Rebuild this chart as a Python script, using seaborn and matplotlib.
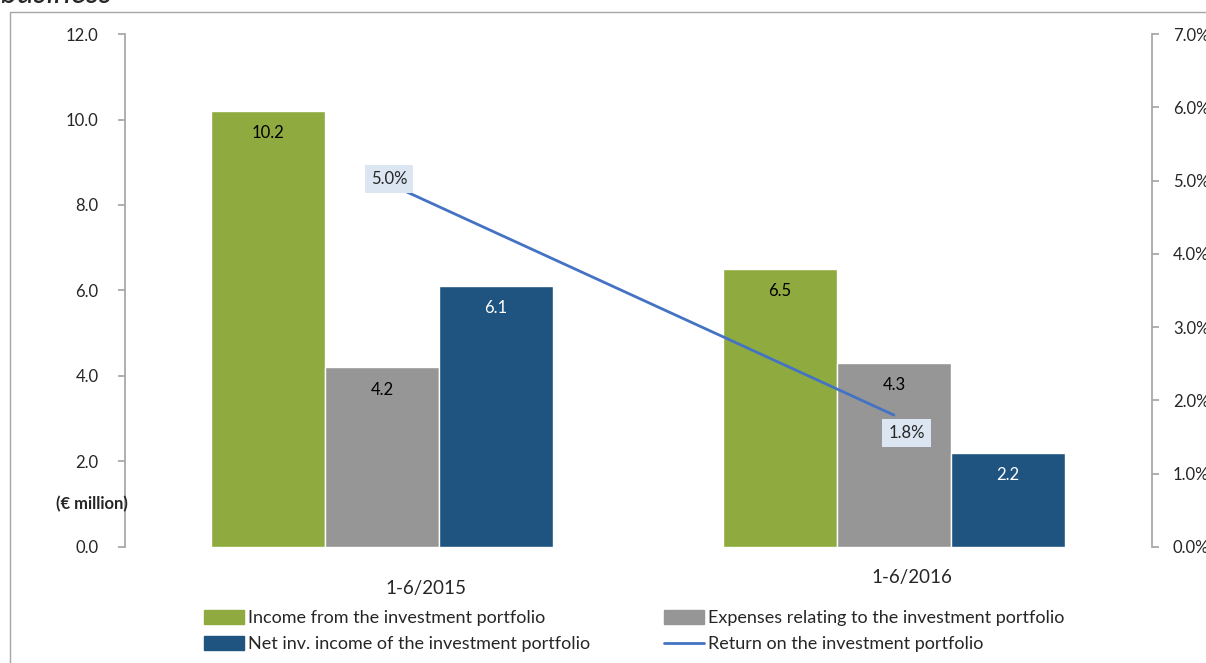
"""
Investment portfolio income, expenses and return - grouped bars with return line
"""
import pandas as pd
import matplotlib
matplotlib.use("Agg")
import matplotlib.pyplot as plt
from matplotlib.patches import Rectangle
from matplotlib.lines import Line2D
import seaborn as sns

# data
periods = ["1-6/2015", "1-6/2016"]
income = [10.2, 6.5]
expenses = [4.2, 4.3]
net_income = [6.1, 2.2]
returns = [5.0, 1.8]  # %

series_names = [
    "Income from the investment portfolio",
    "Expenses relating to the investment portfolio",
    "Net inv. income of the investment portfolio",
]
line_name = "Return on the investment portfolio"
y_ticks = [0, 2, 4, 6, 8, 10, 12]
pct_ticks = [0, 1, 2, 3, 4, 5, 6, 7]

colors = ["#8FAA3E", "#969696", "#1F5480"]
line_color = "#4472C4"
label_colors = ["black", "black", "white"]

sns.set_theme(style="white")
plt.rcParams["font.family"] = ["Lato", "DejaVu Sans"]

df = pd.DataFrame({
    "period": periods * 3,
    "series": [s for s in series_names for _ in periods],
    "value": income + expenses + net_income,
})

fig = plt.figure(figsize=(12.06, 6.63), dpi=100)
ax = fig.add_axes([0.1036, 0.175, 0.8516, 0.7737])

sns.barplot(data=df, x="period", y="value", hue="series", hue_order=series_names,
            palette=colors, width=0.668, gap=0, saturation=1, ax=ax, legend=False,
            errorbar=None)

# value labels inside bar tops
for container, tc in zip(ax.containers, label_colors):
    for patch in container:
        h = patch.get_height()
        ax.annotate(f"{h:.1f}", (patch.get_x() + patch.get_width() / 2, h),
                    xytext=(0, -16), textcoords="offset points", ha="center",
                    va="center", fontsize=12, color=tc)

ax.set_ylim(0, 12)
ax.set_xlim(-0.502, 1.504)
ax.set_yticks(y_ticks)
ax.set_yticklabels([f"{v:.1f}" for v in y_ticks], fontsize=12)
ax.set_xticks([])
ax.set_xlabel("")
ax.set_ylabel("")
for side in ["top", "right", "bottom"]:
    ax.spines[side].set_visible(False)
ax.spines["left"].set_color("#A6A6A6")
ax.tick_params(axis="y", left=True, length=5, color="#A6A6A6", pad=14)

# category labels (slightly offset like the original)
cat_offsets = [(0.086, -0.08), (0.035, -0.06)]
for i, (name, (dx, dy)) in enumerate(zip(periods, cat_offsets)):
    ax.text(i + dx, dy, name, transform=ax.get_xaxis_transform(), ha="center",
            va="center", fontsize=13.5)

ax.text(0.003, 1.0, "(€ million)", transform=ax.get_yaxis_transform(),
        ha="right", va="center", fontsize=12, fontweight="bold")

# return line on secondary axis
ax2 = ax.twinx()
sns.lineplot(x=list(range(len(periods))), y=returns, ax=ax2, color=line_color,
             linewidth=2)
ax2.set_ylim(0, 7)
ax2.set_xlim(-0.502, 1.504)
ax2.set_yticks(pct_ticks)
ax2.set_yticklabels([f"{v:.1f}%" for v in pct_ticks], fontsize=12)
for side in ["top", "left", "bottom"]:
    ax2.spines[side].set_visible(False)
ax2.spines["right"].set_color("#A6A6A6")
ax2.tick_params(axis="y", right=True, length=5, color="#A6A6A6", pad=10)
ax2.set_ylabel("")

label_offsets = [(5, 1), (9, -13)]
for i, (r, (ox, oy)) in enumerate(zip(returns, label_offsets)):
    ax2.annotate(f"{r:.1f}%", (i, r), xytext=(ox, oy), textcoords="offset points",
                 ha="center", va="center", fontsize=12, zorder=5,
                 bbox=dict(boxstyle="square,pad=0.35", fc="#DCE6F2", ec="none"))

# legend
handles = [Rectangle((0, 0), 1, 1, color=c) for c in colors]
handles.append(Line2D([0], [0], color=line_color, linewidth=2))
labels = series_names + [line_name]
order = [0, 2, 1, 3]
fig.legend([handles[i] for i in order], [labels[i] for i in order],
           loc="center", bbox_to_anchor=(0.526, 0.0483), ncol=2, frameon=False,
           fontsize=13, handlelength=2.2, handleheight=0.8, handletextpad=0.22,
           columnspacing=4.1, labelspacing=0.55, borderpad=0)

# outer frame and cut-off title, as in the source crop
fig.add_artist(Line2D([0.0083, 0.0083], [0, 0.982], color="#A6A6A6", linewidth=1,
                      transform=fig.transFigure))
fig.add_artist(Line2D([0.0083, 1.0], [0.982, 0.982], color="#A6A6A6", linewidth=1,
                      transform=fig.transFigure))
fig.text(0.0, 0.996, "business", fontsize=23, fontstyle="italic", va="baseline")

fig.savefig("out.png", dpi=100)
